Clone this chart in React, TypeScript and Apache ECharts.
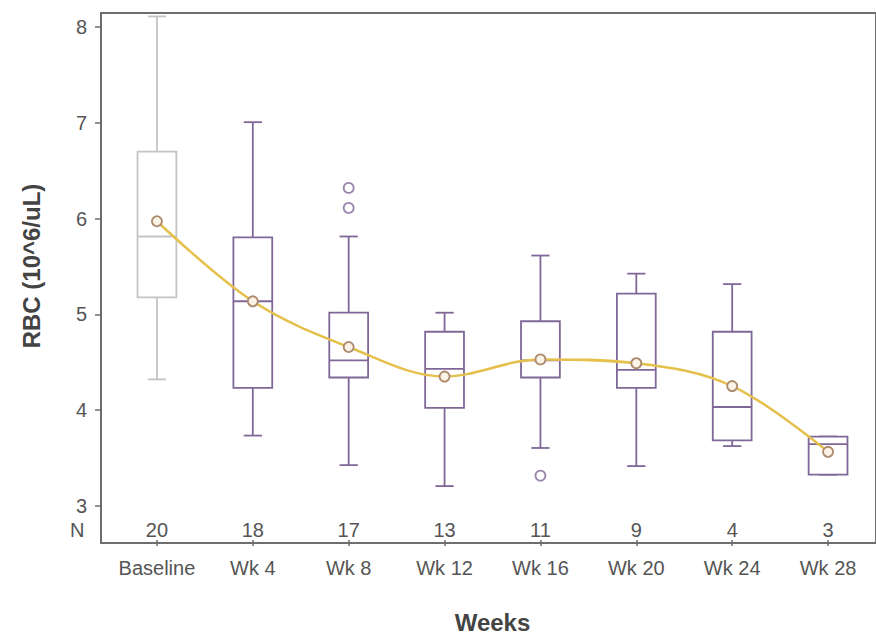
import React, { useEffect, useRef } from "react";
import * as echarts from "echarts";

const categories = ["Baseline", "Wk 4", "Wk 8", "Wk 12", "Wk 16", "Wk 20", "Wk 24", "Wk 28"];
const counts = [20, 18, 17, 13, 11, 9, 4, 3];
const whiskerLow = [4.3, 3.71, 3.4, 3.18, 3.58, 3.39, 3.6, 3.3];
const q1 = [5.16, 4.21, 4.32, 4.0, 4.32, 4.21, 3.66, 3.3];
const medians = [5.8, 5.12, 4.5, 4.41, 4.5, 4.4, 4.01, 3.62];
const q3 = [6.69, 5.79, 5.0, 4.8, 4.91, 5.2, 4.8, 3.7];
const whiskerHigh = [8.11, 7.0, 5.8, 5.0, 5.6, 5.41, 5.3, 3.7];
const means = [5.96, 5.12, 4.64, 4.33, 4.51, 4.47, 4.23, 3.54];
const outlierCategory = ["Wk 8", "Wk 8", "Wk 16"];
const outlierValues = [6.31, 6.1, 3.29];
const yTicks = [3, 4, 5, 6, 7, 8];
const yMin = 2.614;
const yMax = 8.146;

const FONT = "Liberation Sans, Arial, Helvetica, sans-serif";
const PURPLE = "#7f6898";
const GRAY = "#c4c4c4";
const AXIS = "#6e6e6e";
const TEXT = "#555555";

export default function App() {
  const ref = useRef<HTMLDivElement>(null);

  useEffect(() => {
    if (!ref.current) return;
    const chart = echarts.init(ref.current, undefined, { renderer: "svg" });

    const boxData = categories.map((_, i) => [i, whiskerLow[i], q1[i], medians[i], q3[i], whiskerHigh[i]]);
    const outlierData = outlierCategory.map((c, i) => [c, outlierValues[i]]);

    const option: any = {
      animation: false,
      backgroundColor: "#ffffff",
      textStyle: { fontFamily: FONT },
      grid: [
        { left: 109, top: 13, width: 773, height: 530 },
        { left: 101, top: 13, width: 777, height: 530, show: true, borderColor: AXIS, borderWidth: 2, backgroundColor: "transparent" },
        { left: 109, top: 13, width: 773, height: 530 },
      ],
      xAxis: [
        {
          type: "category",
          gridIndex: 0,
          data: categories,
          axisLine: { show: false },
          axisTick: { show: true, interval: 0, alignWithLabel: true, length: 6, lineStyle: { color: AXIS, width: 1.5 } },
          axisLabel: { interval: 0, fontSize: 20, color: TEXT, margin: 18, fontFamily: FONT },
          splitLine: { show: false },
          name: "Weeks",
          nameLocation: "middle",
          nameGap: 70,
          nameTextStyle: { fontSize: 24, fontWeight: "bold", color: "#444", fontFamily: FONT },
        },
        { type: "value", gridIndex: 1, min: 0, max: 1, show: false },
        {
          type: "category",
          gridIndex: 2,
          data: counts.map(String),
          position: "bottom",
          axisLine: { show: false },
          axisTick: { show: false },
          axisLabel: { interval: 0, inside: true, margin: 3, fontSize: 20, color: TEXT, fontFamily: FONT },
          splitLine: { show: false },
        },
      ],
      yAxis: [
        { type: "value", gridIndex: 0, min: yMin, max: yMax, show: false },
        {
          type: "value",
          gridIndex: 1,
          min: yMin,
          max: yMax,
          axisLine: { show: true, lineStyle: { color: AXIS, width: 2 } },
          axisTick: { show: true, length: 6, customValues: yTicks, lineStyle: { color: AXIS, width: 1.5 } },
          axisLabel: { customValues: yTicks, fontSize: 20, color: TEXT, margin: 14, fontFamily: FONT },
          splitLine: { show: false },
        },
        { type: "value", gridIndex: 2, min: 0, max: 1, show: false },
      ],
      graphic: [
        {
          type: "text",
          left: 70,
          top: 520,
          style: { text: "N", fontSize: 20, fill: TEXT, fontFamily: FONT },
        },
        {
          type: "text",
          x: 31,
          y: 266,
          rotation: Math.PI / 2,
          style: {
            text: "RBC (10^6/uL)",
            fontSize: 24,
            fontWeight: "bold",
            fill: "#444",
            fontFamily: FONT,
            align: "center",
            verticalAlign: "middle",
          },
        },
      ],
      series: [
        {
          type: "custom",
          xAxisIndex: 0,
          yAxisIndex: 0,
          data: boxData,
          encode: { x: 0, y: [1, 2, 3, 4, 5] },
          z: 2,
          renderItem: (params: any, api: any) => {
            const i = api.value(0);
            const lo = api.coord([i, api.value(1)]);
            const b1 = api.coord([i, api.value(2)]);
            const md = api.coord([i, api.value(3)]);
            const b3 = api.coord([i, api.value(4)]);
            const hi = api.coord([i, api.value(5)]);
            const band = api.size([1, 0])[0];
            const bw = band * 0.405;
            const cw = band * 0.19;
            const cx = lo[0];
            const color = params.dataIndex === 0 ? GRAY : PURPLE;
            const style = { stroke: color, lineWidth: 1.8, fill: null };
            return {
              type: "group",
              children: [
                { type: "line", shape: { x1: cx, y1: b3[1], x2: cx, y2: hi[1] }, style },
                { type: "line", shape: { x1: cx - cw / 2, y1: hi[1], x2: cx + cw / 2, y2: hi[1] }, style },
                { type: "line", shape: { x1: cx, y1: b1[1], x2: cx, y2: lo[1] }, style },
                { type: "line", shape: { x1: cx - cw / 2, y1: lo[1], x2: cx + cw / 2, y2: lo[1] }, style },
                {
                  type: "rect",
                  shape: { x: cx - bw / 2, y: b3[1], width: bw, height: b1[1] - b3[1] },
                  style: { stroke: color, lineWidth: 1.8, fill: "#ffffff" },
                },
                { type: "line", shape: { x1: cx - bw / 2, y1: md[1], x2: cx + bw / 2, y2: md[1] }, style },
              ],
            };
          },
        },
        {
          type: "scatter",
          xAxisIndex: 0,
          yAxisIndex: 0,
          data: outlierData,
          symbol: "circle",
          symbolSize: 10,
          z: 3,
          itemStyle: { color: "#ffffff", borderColor: PURPLE, borderWidth: 1.8 },
        },
        {
          type: "line",
          xAxisIndex: 0,
          yAxisIndex: 0,
          data: means,
          smooth: 0.35,
          z: 4,
          symbol: "circle",
          symbolSize: 10,
          lineStyle: { color: "#e6c04c", width: 2.5 },
          itemStyle: { color: "#fbf4e6", borderColor: "#ad8a6e", borderWidth: 1.8 },
        },
      ],
    };

    chart.setOption(option);
    return () => chart.dispose();
  }, []);

  return (
    <div
      ref={ref}
      style={{ position: "absolute", left: 0, top: 0, width: 876, height: 639, background: "#fff" }}
    />
  );
}
